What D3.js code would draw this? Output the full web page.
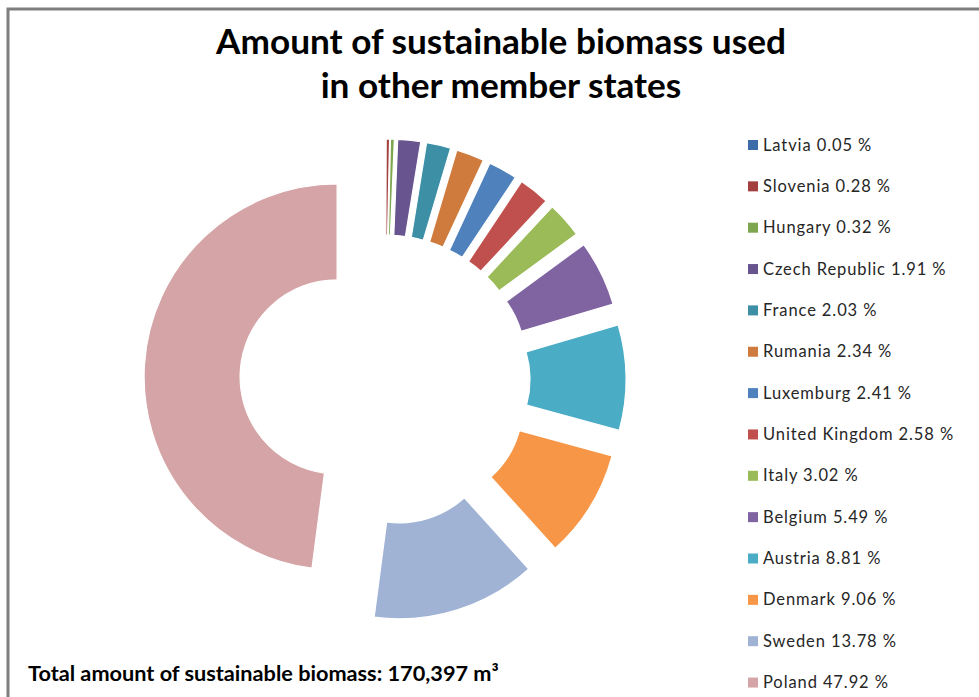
<!DOCTYPE html>
<html>
<head>
<meta charset="utf-8">
<script src="https://cdn.jsdelivr.net/npm/d3@7"></script>
<style>
  html, body { margin: 0; padding: 0; background: #fff; }
  svg { display: block; }
  text { font-family: Lato, "Open Sans", "Liberation Sans", sans-serif; }
</style>
</head>
<body>
<svg id="chart" width="979" height="697"></svg>
<script>
// Share of sustainable biomass by member state (percent), clockwise from 12 o'clock
const countries = ["Latvia", "Slovenia", "Hungary", "Czech Republic", "France", "Rumania",
  "Luxemburg", "United Kingdom", "Italy", "Belgium", "Austria", "Denmark", "Sweden", "Poland"];
const shares = [0.05, 0.28, 0.32, 1.91, 2.03, 2.34, 2.41, 2.58, 3.02, 5.49, 8.81, 9.06, 13.78, 47.92];
const colors = ["#3D6AA8", "#A3403D", "#7EA54F", "#68548F", "#3C8FA5", "#CF7B3E",
  "#4F81BD", "#C0504D", "#9BBB59", "#8064A2", "#4BACC6", "#F79646", "#A0B3D5", "#D5A4A6"];
const titleLines = ["Amount of sustainable biomass used", "in other member states"];
const footnote = "Total amount of sustainable biomass: 170,397 m³";

const data = countries.map((c, i) => ({ country: c, share: shares[i], color: colors[i] }));

const svg = d3.select("#chart");

// chart frame (left and top edges)
svg.append("path")
  .attr("d", "M8,697 L8,9 L979,9")
  .attr("fill", "none")
  .attr("stroke", "#7f7f7f")
  .attr("stroke-width", 3);

// title
svg.append("g").selectAll("text")
  .data(titleLines)
  .join("text")
  .attr("x", 501)
  .attr("y", (d, i) => 54 + i * 44)
  .attr("text-anchor", "middle")
  .attr("font-size", 35.2)
  .attr("font-weight", "bold")
  .attr("fill", "#000")
  .text(d => d);

// exploded doughnut
const cx = 385, cy = 380;
const outerR = 193, innerR = 97, explode = 48;

const pie = d3.pie().sort(null).value(d => d.share);
const arc = d3.arc().innerRadius(innerR).outerRadius(outerR);

const g = svg.append("g").attr("transform", `translate(${cx},${cy})`);
g.selectAll("path")
  .data(pie(data))
  .join("path")
  .attr("transform", d => {
    const a = (d.startAngle + d.endAngle) / 2;
    return `translate(${explode * Math.sin(a)},${-explode * Math.cos(a)})`;
  })
  .attr("d", arc)
  .attr("fill", d => d.data.color)
  .attr("stroke", "#fff")
  .attr("stroke-width", 1.2);

// legend
const legend = svg.append("g").attr("transform", "translate(748,145)");
const rows = legend.selectAll("g")
  .data(data)
  .join("g")
  .attr("transform", (d, i) => `translate(0,${i * 41.35})`);
rows.append("rect")
  .attr("x", 0).attr("y", -5)
  .attr("width", 10).attr("height", 10)
  .attr("fill", d => d.color);
rows.append("text")
  .attr("x", 15).attr("y", 5.5)
  .attr("font-size", 16.5)
  .attr("letter-spacing", 0.9)
  .attr("fill", "#262626")
  .text(d => `${d.country} ${d.share.toFixed(2)} %`);

// total
svg.append("text")
  .attr("x", 28).attr("y", 681)
  .attr("font-size", 21.7)
  .attr("font-weight", "bold")
  .attr("fill", "#000")
  .text(footnote);
</script>
</body>
</html>
